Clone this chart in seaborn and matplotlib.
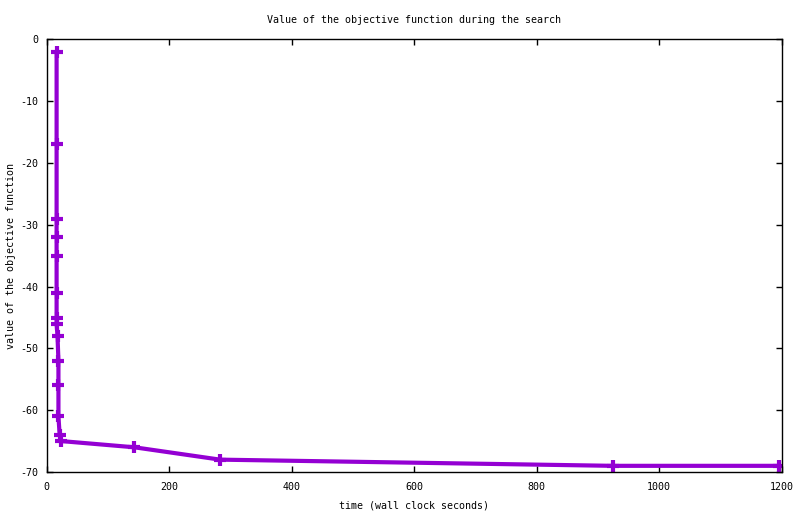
import matplotlib
matplotlib.use("Agg")
import matplotlib.pyplot as plt
import seaborn as sns
import pandas as pd

# Data
time_s = [16, 16, 16, 16, 16, 16, 16, 16, 17.5, 19, 19, 19, 21, 24, 143, 283, 924, 1196]
objective = [-2, -17, -29, -32, -35, -41, -45, -46, -48, -52, -56, -61, -64, -65, -66, -68, -69, -69]
x_ticks = [0, 200, 400, 600, 800, 1000, 1200]
y_ticks = [0, -10, -20, -30, -40, -50, -60, -70]

df = pd.DataFrame({"time": time_s, "value": objective})

sns.set_theme(style="white")
plt.rcParams["font.family"] = ["DejaVu Sans Mono", "DejaVu Sans"]

fig = plt.figure(figsize=(8.0, 5.14), dpi=100)
ax = fig.add_axes([0.0585, 0.0817, 0.9186, 0.8416])

color = "#9400d3"
sns.lineplot(data=df, x="time", y="value", ax=ax, estimator=None, sort=False,
             color=color, linewidth=3.0, marker="+", markersize=8,
             markeredgewidth=3.0, markeredgecolor=color)

ax.set_xlim(0, 1200)
ax.set_ylim(-70, 0)
ax.set_xticks(x_ticks)
ax.set_yticks(y_ticks)
ax.set_xticklabels([str(v) for v in x_ticks])
ax.set_yticklabels([str(v) for v in y_ticks])

for s in ax.spines.values():
    s.set_visible(True)
    s.set_color("black")
    s.set_linewidth(1.0)

ax.tick_params(axis="both", which="both", direction="in", length=4.3, width=1.0,
               color="black", labelsize=7.2, labelcolor="black",
               top=True, right=True, bottom=True, left=True)
ax.tick_params(axis="x", pad=7)
ax.tick_params(axis="y", pad=6)

ax.set_xlabel("time (wall clock seconds)", fontsize=7.2, color="black", labelpad=6)
ax.set_ylabel("value of the objective function", fontsize=7.2, color="black", labelpad=3)
ax.set_title("Value of the objective function during the search", fontsize=7.2,
             color="black", pad=12)
ax.grid(False)

fig.savefig("out.png", dpi=100, facecolor="white")
